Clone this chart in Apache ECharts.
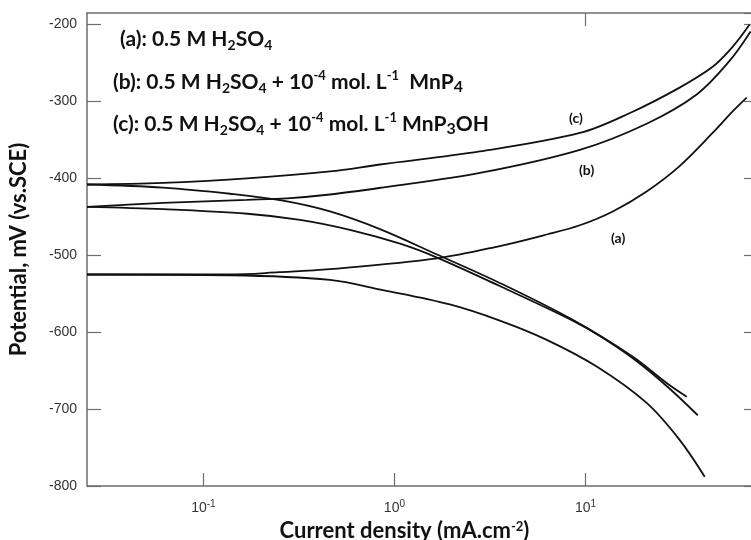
<!DOCTYPE html>
<html style="height: 100%">
<head>
<meta charset="utf-8">
<title>Tafel</title>
<script src="https://cdn.jsdelivr.net/npm/echarts@6/dist/echarts.min.js"></script>
</head>
<body style="height: 100%; margin: 0; background: #fff">
	<div id="container" style="width: 751px; height: 540px"></div>
	<script type="text/javascript">
		// current density (mA.cm-2) and potential (mV) for each branch
		var aAnodicI = [0.0246, 0.138, 0.25, 0.46, 1.67, 3.56, 6.27, 9.34, 13.9, 20.9, 31.1, 46.3, 58.9, 69.8];
		var aAnodicE = [-525, -525, -522, -518, -504, -488, -473, -461, -443, -417, -384, -341, -313, -295];
		var aCathodicI = [0.0246, 0.138, 0.46, 0.86, 1.95, 3.56, 6.27, 11.5, 20.9, 31.1, 42.1];
		var aCathodicE = [-525, -526, -532, -545, -564, -585, -610, -645, -692, -740, -788];
		var bAnodicI = [0.0246, 0.0615, 0.169, 0.274, 0.46, 0.86, 2.8, 9.34, 20.9, 38.2, 56.9, 73.2];
		var bAnodicE = [-437, -432, -428, -426, -421, -412, -393, -363, -329, -291, -247, -209];
		var bCathodicI = [0.0246, 0.0615, 0.17, 0.321, 0.585, 1.07, 1.67, 3.56, 8.58, 11.9, 17.7, 26.6, 38.7];
		var bCathodicE = [-437, -440, -446, -454, -467, -485, -503, -540, -585, -605, -634, -670, -708];
		var cAnodicI = [0.0246, 0.0615, 0.169, 0.46, 0.84, 2.8, 9.34, 17.1, 31.1, 46.3, 58.9, 72.3];
		var cAnodicE = [-408, -406, -400, -391, -382, -365, -341, -315, -282, -255, -229, -200];
		var cCathodicI = [0.0246, 0.0615, 0.138, 0.261, 0.46, 0.84, 1.67, 3.56, 8.58, 17.7, 26.6, 33.9];
		var cCathodicE = [-408, -412, -420, -429, -443, -466, -499, -536, -584, -632, -666, -684];

		var xMin = 0.0246, xMax = 80;
		var yMin = -800, yMax = -185, yStep = 100;

		function pairs(xs, ys) {
			var out = [];
			for (var i = 0; i < xs.length; i++) {
				out.push([xs[i], ys[i]]);
			}
			return out;
		}

		function branch(name, xs, ys) {
			return {
				name : name,
				type : 'line',
				data : pairs(xs, ys),
				smooth : 0.35,
				showSymbol : false,
				silent : true,
				lineStyle : {
					color : '#111',
					width : 1.8
				}
			};
		}

		var axisGray = '#6e6e6e';
		var bold = 'Lato';

		var legendRich = {
			n : { fontFamily : bold, fontWeight : 'bold', fontSize : 21, lineHeight : 26, color : '#111' },
			s : { fontFamily : bold, fontWeight : 'bold', fontSize : 14, lineHeight : 26, verticalAlign : 'bottom', color : '#111' },
			p : { fontFamily : bold, fontWeight : 'bold', fontSize : 13, lineHeight : 26, verticalAlign : 'top', color : '#111' },
			m : { fontFamily : bold, fontWeight : 'bold', fontSize : 16, lineHeight : 24, verticalAlign : 'bottom', color : '#111' }
		};

		function legendText(txt, x, y) {
			return {
				type : 'text',
				left : x,
				top : y,
				silent : true,
				style : {
					text : txt,
					rich : legendRich,
					fill : '#111'
				}
			};
		}

		function curveTag(txt, x, y) {
			return {
				type : 'text',
				left : x,
				top : y,
				silent : true,
				style : {
					text : txt,
					fill : '#111',
					font : 'bold 14px Lato'
				}
			};
		}

		var myChart = echarts.init(document.getElementById('container'));

		var option = {
			animation : false,
			backgroundColor : '#fff',
			grid : {
				left : 87,
				right : -7,
				top : 13,
				bottom : 54,
				outerBoundsMode : 'none'
			},
			xAxis : [ {
				type : 'log',
				min : xMin,
				max : xMax,
				position : 'bottom',
				axisLine : { lineStyle : { color : axisGray, width : 1.5 } },
				axisTick : { inside : true, length : 13, lineStyle : { color : axisGray, width : 1.2 } },
				minorTick : { show : false },
				splitLine : { show : false },
				axisLabel : {
					showMinLabel : false,
					showMaxLabel : false,
					margin : 13,
					formatter : function(v) {
						return '{b|10}{s|' + Math.round(Math.log(v) / Math.LN10) + '}';
					},
					rich : {
						b : { fontFamily : 'Liberation Sans', fontSize : 14, color : '#333', lineHeight : 18 },
						s : { fontFamily : 'Liberation Sans', fontSize : 10, color : '#333', lineHeight : 18, verticalAlign : 'top' }
					}
				},
				name : 'Current density (mA.cm{p|-2})',
				nameLocation : 'middle',
				nameGap : 29,
				nameTextStyle : {
					fontFamily : bold,
					fontWeight : 'bold',
					fontSize : 22,
					color : '#111',
					padding : [ 0, 36, 0, 0 ],
					rich : {
						p : { fontFamily : bold, fontWeight : 'bold', fontSize : 13, verticalAlign : 'top', color : '#111' }
					}
				}
			}, {
				type : 'log',
				min : xMin,
				max : xMax,
				position : 'top',
				axisLine : { lineStyle : { color : axisGray, width : 1.5 } },
				axisTick : { inside : true, length : 13, customValues : [10], lineStyle : { color : axisGray, width : 1.2 } },
				minorTick : { show : false },
				splitLine : { show : false },
				axisLabel : { show : false }
			} ],
			yAxis : [ {
				type : 'value',
				min : yMin,
				max : yMax,
				interval : yStep,
				position : 'left',
				axisLine : { show : true, lineStyle : { color : axisGray, width : 1.5 } },
				axisTick : { show : true, inside : true, length : 14, lineStyle : { color : axisGray, width : 1.2 } },
				splitLine : { show : false },
				axisLabel : {
					showMaxLabel : false,
					margin : 10,
					fontFamily : 'Liberation Sans',
					fontSize : 14,
					color : '#333'
				},
				name : 'Potential, mV (vs.SCE)',
				nameLocation : 'middle',
				nameRotate : 90,
				nameGap : 57,
				nameTextStyle : {
					fontFamily : bold,
					fontWeight : 'bold',
					fontSize : 22,
					color : '#111'
				}
			}, {
				type : 'value',
				min : yMin,
				max : yMax,
				interval : yStep,
				position : 'right',
				axisLine : { show : true, lineStyle : { color : axisGray, width : 1.5 } },
				axisTick : { show : true, inside : true, length : 14, lineStyle : { color : axisGray, width : 1.2 } },
				splitLine : { show : false },
				axisLabel : { show : false }
			} ],
			graphic : [
				legendText('{n|(a): 0.5 M H}{s|2}{n|SO}{s|4}', 120, 29),
				legendText('{n|(b): 0.5 M H}{s|2}{n|SO}{s|4}{n| + 10}{p|-4}{n| mol. L}{p|-1}{n|  MnP}{m|4}', 113, 69),
				legendText('{n|(c): 0.5 M H}{s|2}{n|SO}{s|4}{n| + 10}{p|-4}{n| mol. L}{p|-1}{n| MnP}{m|3}{n|OH}', 113, 111),
				curveTag('(c)', 569, 111),
				curveTag('(b)', 579, 163),
				curveTag('(a)', 611, 231)
			],
			series : [
				branch('a-anodic', aAnodicI, aAnodicE),
				branch('a-cathodic', aCathodicI, aCathodicE),
				branch('b-anodic', bAnodicI, bAnodicE),
				branch('b-cathodic', bCathodicI, bCathodicE),
				branch('c-anodic', cAnodicI, cAnodicE),
				branch('c-cathodic', cCathodicI, cCathodicE)
			]
		};

		myChart.setOption(option);
	</script>
</body>
</html>
